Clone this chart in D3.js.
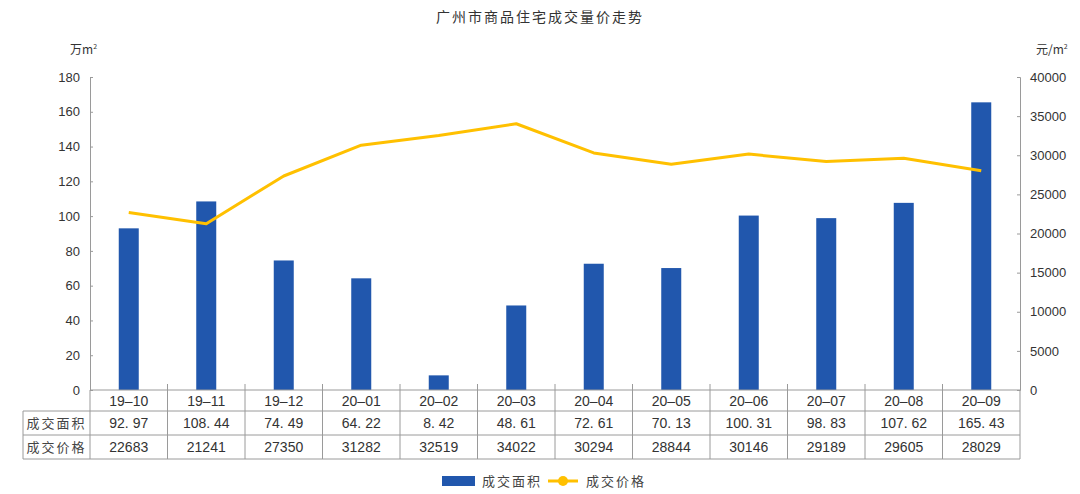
<!DOCTYPE html>
<html><head><meta charset="utf-8">
<script src="https://cdn.jsdelivr.net/npm/d3@7"></script>
<style>
html,body{margin:0;padding:0;background:#fff;}
svg{display:block;font-family:"Liberation Sans","DejaVu Sans",sans-serif;}
.cjk{font-family:"Noto Sans CJK SC",sans-serif;}
</style></head>
<body><svg id="c" width="1080" height="494"></svg>
<script>
const categories = ["19-10","19-11","19-12","20-01","20-02","20-03","20-04","20-05","20-06","20-07","20-08","20-09"];
const areaValues = [92.97,108.44,74.49,64.22,8.42,48.61,72.61,70.13,100.31,98.83,107.62,165.43];
const priceValues = [22683,21241,27350,31282,32519,34022,30294,28844,30146,29189,29605,28029];
const leftTicks = [0,20,40,60,80,100,120,140,160,180];
const rightTicks = [0,5000,10000,15000,20000,25000,30000,35000,40000];
const seriesNames = ["成交面积","成交价格"];
const title = "广州市商品住宅成交量价走势";

const svg = d3.select("#c");
const L = 90, R = 1020, T = 77, B = 390;
const tableLeft = 23, rowY = [390, 411, 435, 459];
const blue = "#2157ad", gold = "#ffc000", gridc = "#9a9a9a";

const x = d3.scaleBand().domain(categories).range([L, R]);
const yL = d3.scaleLinear().domain([0,180]).range([B, T]);
const yR = d3.scaleLinear().domain([0,40000]).range([B, T]);

svg.append("text").attr("class","cjk").attr("x",540).attr("y",22).attr("text-anchor","middle")
  .attr("font-size",14).attr("fill","#333").attr("letter-spacing",2).text(title);

// unit labels
const u1 = svg.append("text").attr("class","cjk").attr("x",70).attr("y",54).attr("font-size",12).attr("fill","#333");
u1.append("tspan").text("万m");
u1.append("tspan").attr("font-size",7).attr("dy",-5).text("2");
const u2 = svg.append("text").attr("class","cjk").attr("x",1036).attr("y",54).attr("font-size",12).attr("fill","#333");
u2.append("tspan").text("元/m");
u2.append("tspan").attr("font-size",7).attr("dy",-5).text("2");

// bars
svg.append("g").selectAll("rect").data(areaValues).join("rect")
  .attr("x",(d,i)=>x(categories[i]) + x.bandwidth()/2 - 10)
  .attr("width",20)
  .attr("y",d=>yL(d)).attr("height",d=>B - yL(d))
  .attr("fill",blue);

// line
const line = d3.line().x((d,i)=>x(categories[i]) + x.bandwidth()/2).y(d=>yR(d));
svg.append("path").datum(priceValues).attr("d",line).attr("fill","none")
  .attr("stroke",gold).attr("stroke-width",3).attr("stroke-linejoin","round");

// left axis
const gl = svg.append("g").attr("transform",`translate(${L},0)`)
  .call(d3.axisLeft(yL).tickValues(leftTicks).tickSizeInner(-3).tickSizeOuter(-3).tickPadding(10));
gl.select(".domain").attr("stroke",gridc);
gl.selectAll(".tick line").attr("stroke",gridc);
gl.selectAll(".tick text").attr("font-size",13).attr("fill","#333").attr("font-family","Liberation Sans, sans-serif");

const gr = svg.append("g").attr("transform",`translate(${R},0)`)
  .call(d3.axisRight(yR).tickValues(rightTicks).tickFormat(d3.format("d")).tickSizeInner(-3).tickSizeOuter(-3).tickPadding(10));
gr.select(".domain").attr("stroke",gridc);
gr.selectAll(".tick line").attr("stroke",gridc);
gr.selectAll(".tick text").attr("font-size",13).attr("fill","#333").attr("font-family","Liberation Sans, sans-serif");

// table
const tg = svg.append("g").attr("stroke",gridc).attr("stroke-width",1);
tg.append("line").attr("x1",L).attr("x2",R).attr("y1",rowY[0]).attr("y2",rowY[0]);
tg.append("line").attr("x1",tableLeft).attr("x2",R).attr("y1",rowY[1]).attr("y2",rowY[1]);
tg.append("line").attr("x1",tableLeft).attr("x2",R).attr("y1",rowY[2]).attr("y2",rowY[2]);
tg.append("line").attr("x1",tableLeft).attr("x2",R).attr("y1",rowY[3]).attr("y2",rowY[3]);
const bounds = categories.map(c=>x(c)).concat([R]);
tg.selectAll("line.v").data(bounds).join("line").attr("class","v")
  .attr("x1",d=>d).attr("x2",d=>d).attr("y1",(d,i)=> (i===0||i===bounds.length-1)?rowY[0]:rowY[0]-6).attr("y2",rowY[3]);
tg.append("line").attr("x1",tableLeft).attr("x2",tableLeft).attr("y1",rowY[1]).attr("y2",rowY[3]);

const cx = c => x(c) + x.bandwidth()/2;
const tt = svg.append("g").attr("font-size",14).attr("fill","#333").attr("text-anchor","middle");
tt.selectAll("text.c").data(categories).join("text").attr("class","c")
  .attr("x",d=>cx(d)).attr("y",(rowY[0]+rowY[1])/2+5).text(d=>d.replace("-","\u2013"));
tt.selectAll("text.a").data(areaValues).join("text").attr("class","a")
  .attr("x",(d,i)=>cx(categories[i])).attr("y",(rowY[1]+rowY[2])/2+5).text(d=>d.toFixed(2).replace(".",". "));
tt.selectAll("text.p").data(priceValues).join("text").attr("class","p")
  .attr("x",(d,i)=>cx(categories[i])).attr("y",(rowY[2]+rowY[3])/2+5).text(d=>d);
svg.append("text").attr("class","cjk").attr("x",(tableLeft+L)/2).attr("y",(rowY[1]+rowY[2])/2+5)
  .attr("text-anchor","middle").attr("font-size",13).attr("fill","#444").attr("letter-spacing",2).text(seriesNames[0]);
svg.append("text").attr("class","cjk").attr("x",(tableLeft+L)/2).attr("y",(rowY[2]+rowY[3])/2+5)
  .attr("text-anchor","middle").attr("font-size",13).attr("fill","#444").attr("letter-spacing",2).text(seriesNames[1]);

// legend
const lg = svg.append("g");
lg.append("rect").attr("x",442).attr("y",476).attr("width",33).attr("height",10).attr("fill",blue);
lg.append("text").attr("class","cjk").attr("x",482).attr("y",486).attr("font-size",13).attr("fill","#444").attr("letter-spacing",2).text(seriesNames[0]);
lg.append("line").attr("x1",548).attr("x2",578).attr("y1",481).attr("y2",481).attr("stroke",gold).attr("stroke-width",3);
lg.append("circle").attr("cx",563).attr("cy",481).attr("r",5).attr("fill",gold);
lg.append("text").attr("class","cjk").attr("x",586).attr("y",486).attr("font-size",13).attr("fill","#444").attr("letter-spacing",2).text(seriesNames[1]);
</script></body></html>
